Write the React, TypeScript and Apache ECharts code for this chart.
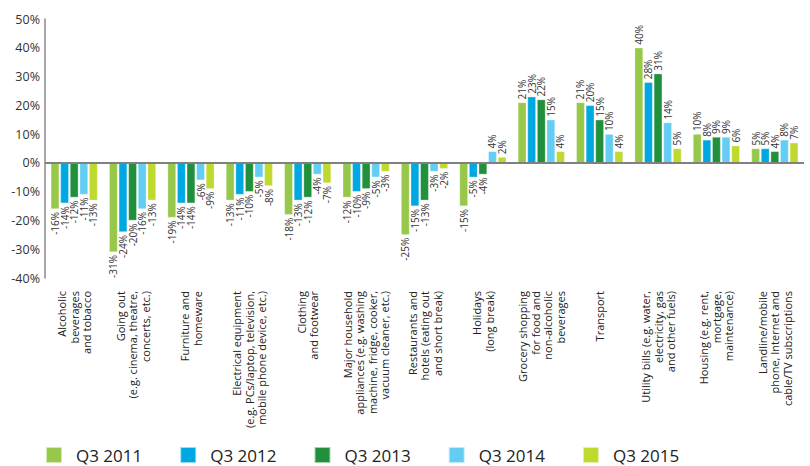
import React, { useEffect, useRef } from "react";
import * as echarts from "echarts";

const categories = [
  "Alcoholic\nbeverages\nand tobacco",
  "Going out\n(e.g. cinema, theatre,\nconcerts, etc.)",
  "Furniture and\nhomeware",
  "Electrical equipment\n(e.g. PCs/laptop, television,\nmobile phone device, etc.)",
  "Clothing\nand footwear",
  "Major household\nappliances (e.g. washing\nmachine, fridge, cooker,\nvacuum cleaner, etc.)",
  "Restaurants and\nhotels (eating out\nand short break)",
  "Holidays\n(long break)",
  "Grocery shopping\nfor food and\nnon-alcoholic\nbeverages",
  "Transport",
  "Utility bills (e.g. water,\nelectricity, gas\nand other fuels)",
  "Housing (e.g. rent,\nmortgage,\nmaintenance)",
  "Landline/mobile\nphone, Internet and\ncable/TV subscriptions",
];

const seriesNames = ["Q3 2011", "Q3 2012", "Q3 2013", "Q3 2014", "Q3 2015"];

const q3_2011 = [-16, -31, -19, -13, -18, -12, -25, -15, 21, 21, 40, 10, 5];
const q3_2012 = [-14, -24, -14, -11, -13, -10, -15, -5, 23, 20, 28, 8, 5];
const q3_2013 = [-12, -20, -14, -10, -12, -9, -13, -4, 22, 15, 31, 9, 4];
const q3_2014 = [-11, -16, -6, -5, -4, -5, -3, 4, 15, 10, 14, 9, 8];
const q3_2015 = [-13, -13, -9, -8, -7, -3, -2, 2, 4, 4, 5, 6, 7];

const seriesValues = [q3_2011, q3_2012, q3_2013, q3_2014, q3_2015];
const colors = ["#97c84a", "#00a8e1", "#21903d", "#64cdf4", "#c0d92f"];

export default function App() {
  const ref = useRef<HTMLDivElement>(null);
  useEffect(() => {
    if (!ref.current) return;
    const chart = echarts.init(ref.current, undefined, { renderer: "svg" });
    const font = "'Open Sans', 'Noto Sans', sans-serif";
    chart.setOption({
      animation: false,
      color: colors,
      grid: { left: 45, right: 6, top: 19, bottom: 188, containLabel: false },
      legend: {
        left: 45,
        top: 446,
        padding: 0,
        itemWidth: 16,
        itemHeight: 16,
        itemGap: 37,
        icon: "rect",
        textStyle: {
          fontFamily: font,
          fontSize: 17,
          lineHeight: 16,
          color: "#222",
          padding: [0, 0, 0, 9],
        },
        data: seriesNames,
      },
      xAxis: {
        type: "category",
        data: categories,
        axisLine: { show: false, onZero: false },
        axisTick: { show: false },
        axisLabel: {
          rotate: 90,
          interval: 0,
          margin: 13,
          fontSize: 11,
          lineHeight: 12.5,
          color: "#222",
          fontFamily: font,
        },
      },
      yAxis: {
        type: "value",
        min: -40,
        max: 50,
        interval: 10,
        axisLine: { show: true, lineStyle: { color: "#888", width: 1.5 } },
        axisTick: { show: false },
        splitLine: { show: false },
        axisLabel: {
          formatter: "{value}%",
          fontSize: 12.5,
          color: "#333",
          margin: 5,
          fontFamily: font,
        },
      },
      series: seriesNames.map((name, i) => ({
        name,
        type: "bar",
        barGap: "15%",
        barCategoryGap: "20%",
        itemStyle: { color: colors[i], borderColor: "rgba(255,255,255,0.6)", borderWidth: 0.5 },
        label: {
          show: true,
          rotate: 90,
          fontSize: 10,
          color: "#333",
          fontFamily: font,
          distance: 3,
          formatter: "{c}%",
        },
        data: seriesValues[i].map((v) => ({
          value: v,
          label: {
            position: v < 0 ? "bottom" : "top",
            align: v < 0 ? "right" : "left",
            verticalAlign: "middle",
          },
        })),
        markLine:
          i === 0
            ? {
                silent: true,
                symbol: "none",
                label: { show: false },
                lineStyle: { color: "#808080", width: 2, type: "solid" },
                data: [{ yAxis: 0 }],
              }
            : undefined,
      })),
    });
    return () => chart.dispose();
  }, []);
  return (
    <div
      ref={ref}
      style={{ position: "absolute", left: 0, top: 0, width: 810, height: 466 }}
    />
  );
}
